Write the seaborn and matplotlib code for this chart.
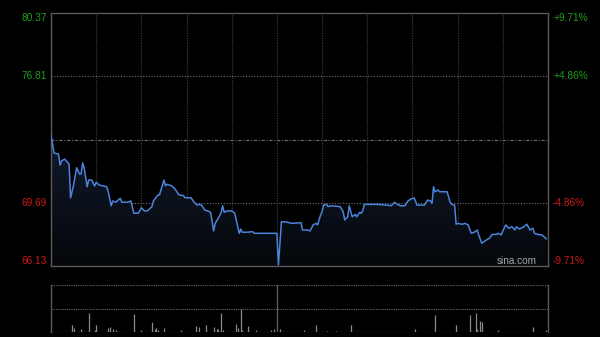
import numpy as np
import pandas as pd
import matplotlib
matplotlib.use("Agg")
import matplotlib.pyplot as plt
from matplotlib.patches import PathPatch
from matplotlib.colors import LinearSegmentedColormap
import seaborn as sns

# ---------------- data ----------------
prev_close = 73.25
y_low, y_high = 66.13, 80.37
left_labels = ["80.37", "76.81", "69.69", "66.13"]
left_values = [80.37, 76.81, 69.69, 66.13]
right_labels = ["+9.71%", "+4.86%", "-4.86%", "-9.71%"]

minutes = [0, 2, 5, 6, 7, 9, 12, 13, 15, 17, 19, 20, 21, 22, 24, 25, 27, 29, 30, 32,
           37, 38, 40, 41, 43, 46, 47, 51, 53, 55, 58, 60, 62, 64, 67, 68, 71, 72, 75, 76,
           77, 80, 82, 85, 88, 89, 93, 95, 97, 98, 100, 102, 104, 106, 108, 109, 111, 113, 114, 115,
           117, 120, 122, 123, 125, 126, 127, 130, 134, 135, 150, 151, 153, 155, 157, 160, 166, 167, 170, 172,
           174, 176, 177, 179, 180, 181, 183, 184, 186, 192, 194, 195, 197, 198, 200, 202, 203, 205, 206, 207,
           208, 210, 216, 223, 226, 228, 230, 232, 235, 237, 239, 241, 242, 243, 248, 250, 252, 253, 254, 255,
           257, 258, 263, 265, 266, 268, 269, 270, 273, 275, 277, 279, 281, 283, 284, 286, 289, 291, 293, 296,
           297, 299, 300, 302, 304, 306, 308, 309, 311, 314, 316, 318, 320, 321, 323, 326, 329]
prices = [73.50, 72.49, 72.43, 71.81, 72.04, 72.15, 71.87, 69.97, 70.69, 71.66, 71.31, 71.31, 71.93, 71.66, 70.59, 70.97, 70.97, 70.63, 70.84, 70.69,
          70.59, 70.31, 69.52, 69.79, 69.72, 69.94, 69.72, 69.72, 69.79, 69.10, 69.10, 69.41, 69.23, 69.23, 69.47, 69.79, 70.13, 70.13, 70.97, 70.65,
          70.73, 70.65, 70.50, 70.13, 70.09, 69.97, 69.97, 69.72, 69.56, 69.60, 69.56, 69.28, 69.23, 69.15, 68.10, 68.53, 68.81, 69.15, 69.52, 69.15,
          69.23, 69.23, 69.10, 68.72, 67.97, 68.21, 68.03, 68.03, 68.06, 67.97, 67.97, 66.19, 68.62, 68.62, 68.59, 68.53, 68.57, 68.16, 68.16, 68.10,
          68.44, 68.53, 68.44, 69.00, 69.19, 69.56, 69.60, 69.47, 69.52, 69.47, 69.19, 68.72, 68.90, 69.52, 68.90, 69.04, 68.90, 69.15, 69.10, 69.23,
          69.60, 69.60, 69.60, 69.56, 69.52, 69.72, 69.60, 69.52, 69.52, 69.79, 69.90, 69.97, 69.79, 69.56, 69.56, 69.84, 69.79, 69.66, 70.59, 70.31,
          70.41, 70.31, 70.31, 69.72, 69.60, 69.56, 68.48, 68.53, 68.48, 68.53, 68.44, 67.97, 68.03, 68.16, 67.88, 67.41, 67.59, 67.69, 67.91, 67.91,
          67.97, 67.88, 68.10, 68.44, 68.25, 68.34, 68.16, 68.34, 68.21, 68.34, 68.48, 68.16, 68.25, 67.97, 67.91, 67.88, 67.65]

vol_minutes = [14, 15, 20, 25, 29, 30, 38, 39, 41, 43, 55, 60, 67, 69, 70, 71, 75, 86, 96, 98,
               103, 108, 110, 111, 113, 114, 123, 124, 126, 127, 131, 136, 146, 148, 152, 168, 176, 183, 189, 199,
               242, 255, 269, 278, 282, 283, 285, 286, 297, 320, 329]
volumes = [14, 9, 6, 41, 5, 14, 9, 11, 6, 5, 39, 4, 21, 7, 9, 5, 9, 4, 12, 11,
           14, 11, 7, 7, 41, 4, 18, 9, 48, 5, 12, 5, 5, 6, 7, 5, 14, 3, 3, 14,
           6, 36, 14, 36, 41, 7, 23, 21, 5, 11, 4]

session_minutes = 330
grid_minutes = [30, 60, 90, 120, 150, 180, 210, 240, 270, 300]

# ---------------- style ----------------
sns.set_theme(style="dark")
plt.rcParams["font.family"] = ["Liberation Sans", "DejaVu Sans"]

fig = plt.figure(figsize=(6.0, 3.37), dpi=100, facecolor="black")
ax = fig.add_axes([51 / 600, 71 / 337, 497 / 600, 253 / 337], facecolor="#000000")
axv = fig.add_axes([51 / 600, 5 / 337, 497 / 600, 47 / 337], facecolor="#000000")

df = pd.DataFrame({"minute": minutes, "price": prices})

# gradient fill under the line
poly = ax.fill_between(df["minute"], df["price"], y_low, color="none", lw=0)
patch = PathPatch(poly.get_paths()[0], transform=ax.transData, facecolor="none", edgecolor="none")
ax.add_patch(patch)
cmap = LinearSegmentedColormap.from_list("g", ["#05070b", "#111a2b"])
grad = np.linspace(0, 1, 256).reshape(-1, 1)
im = ax.imshow(grad, extent=[0, session_minutes, y_low, max(prices)], origin="lower",
               aspect="auto", cmap=cmap, zorder=1)
im.set_clip_path(patch)

# grid
for m in grid_minutes:
    ax.axvline(m, color="#3a3a3a", lw=0.9, ls=(0, (1, 1)), zorder=0.5)
for v in [76.81, 69.69]:
    ax.axhline(v, color="#6e6e6e", lw=0.8, ls=(0, (1, 1.5)), zorder=0.5)
ax.axhline(prev_close, color="#6e6e6e", lw=0.8, ls=(0, (3, 1.5, 1, 1.5)), zorder=0.5)

sns.lineplot(data=df, x="minute", y="price", ax=ax, color="#4a84da", lw=1.1, zorder=3)

ax.set_xlim(0, session_minutes)
ax.set_ylim(y_low, y_high)
ax.set_xticks([])
ax.set_yticks([])
ax.set_xlabel("")
ax.set_ylabel("")
ax.grid(False)
for s in ax.spines.values():
    s.set_visible(True)
    s.set_color("#5a5a5a")
    s.set_linewidth(1.0)

# axis labels
trans_l = matplotlib.transforms.blended_transform_factory(fig.transFigure, ax.transData)
colors_l = ["#1e9e1e", "#1e9e1e", "#cc1a1a", "#cc1a1a"]
for i, (lab, val, col, rlab) in enumerate(zip(left_labels, left_values, colors_l, right_labels)):
    va = "center"
    off = 0
    if i == 0:
        off = -5 / 337 * (y_high - y_low) / (253 / 337)
    if i == len(left_labels) - 1:
        off = 5 / 337 * (y_high - y_low) / (253 / 337)
    ax.text(47 / 600, val + off, lab, transform=trans_l, ha="right", va=va,
            color=col, fontsize=7.3)
    ax.text(553 / 600, val + off, rlab, transform=trans_l, ha="left", va=va,
            color=col, fontsize=7.3)

ax.text(537 / 600, 261 / 337, "", transform=fig.transFigure)
fig.text(537 / 600, 1 - 261 / 337, "sina.com", ha="right", va="center",
         color="#a8a8a8", fontsize=7.2)

# volume panel
axv.vlines(vol_minutes, 0, volumes, color="#8a8a8a", lw=0.9)
for v in [100, 50]:
    axv.axhline(v, color="#6a6a6a", lw=0.8, ls=(0, (1, 1)))
axv.axhline(0.6, color="#6a6a6a", lw=0.9, ls=(0, (1, 1)))
axv.axvline(150, color="#5a5a5a", lw=1.0)
axv.set_xlim(0, session_minutes)
axv.set_ylim(0, 100)
axv.set_xticks([])
axv.set_yticks([])
axv.grid(False)
for k, s in axv.spines.items():
    s.set_color("#5a5a5a")
    s.set_linewidth(1.0)
    s.set_visible(k in ("left", "right"))

fig.savefig("out.png", dpi=100, facecolor="black")
